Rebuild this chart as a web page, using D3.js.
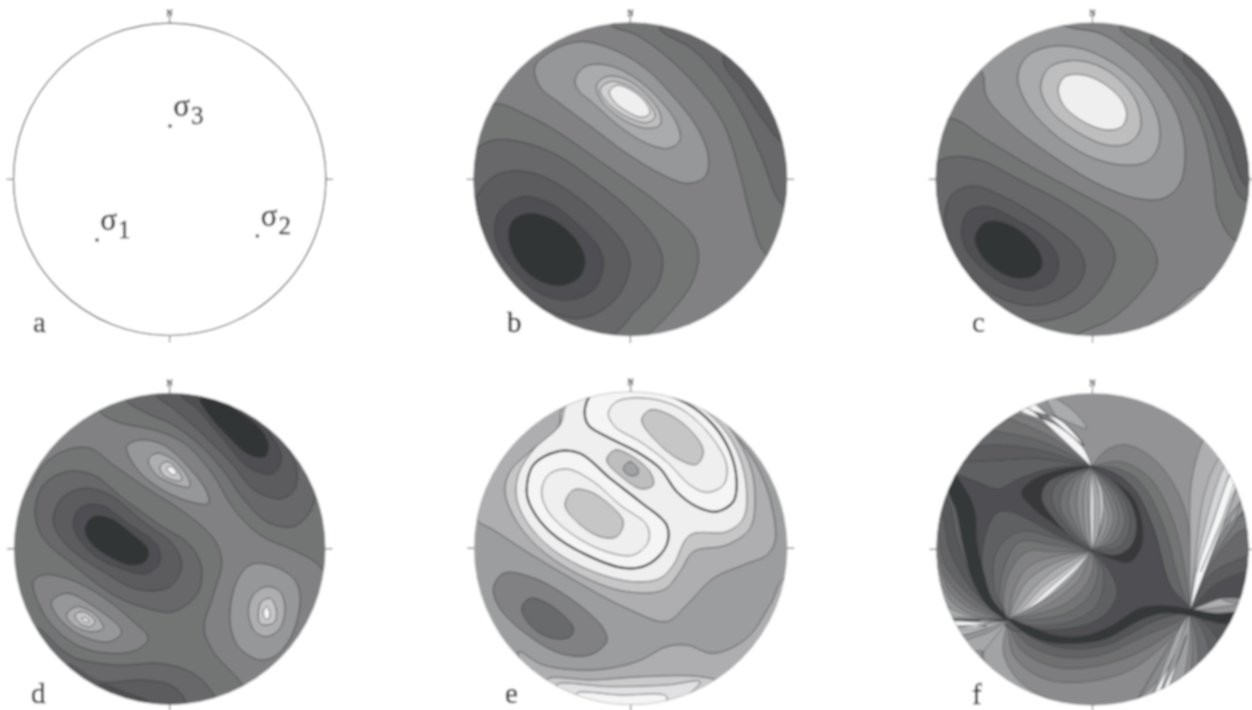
<!DOCTYPE html>
<html>
<head>
<meta charset="utf-8">
<script src="https://cdn.jsdelivr.net/npm/d3@7"></script>
<style>
  html, body { margin: 0; padding: 0; background: #fff; }
  svg { display: block; }
  text { font-family: "Liberation Serif", serif; fill: #222; stroke: #222; stroke-width: 0.35px; }
</style>
</head>
<body>
<div id="chart"></div>
<script>
// Contours were traced off 3x crops of the figure, so ring points are in crop
// pixels. Every ring is [level, [x, y, x, y, ...]], level 0 = darkest, 100 = white.

const panelLetters = ["a", "b", "c", "d", "e", "f"]
const northLabel = "N"

// stress axes on panel a: name, subscript, point
const stressNames = ["\u03c3", "\u03c3", "\u03c3"]
const stressSubs = ["1", "2", "3"]
const stressPoints = [[291, 720], [772, 708], [510, 378]]

const baseLevels = { b: 41, c: 41, d: 41, e: 55, f: 50 }

const panelBRings = [
  [34, [455,75, 530,105, 620,170, 720,270, 790,370, 840,520, 870,640, 915,760, 1000,800, 1060,500, 900,100, 600,20]],
  [28, [600,85, 700,150, 790,250, 850,350, 900,460, 975,620, 1060,600, 1000,200, 750,40]],
  [22, [790,185, 850,270, 910,360, 975,430, 1060,400, 950,150, 820,110]],
  [34, [100,312, 200,345, 300,400, 400,470, 500,540, 620,630, 700,710, 715,780, 690,860, 620,950, 560,1010, 520,1080, 200,1080, -40,800, -20,400]],
  [28, [45,450, 100,420, 200,430, 300,470, 400,540, 500,620, 580,710, 608,780, 590,860, 520,940, 460,1005, 300,1060, 0,850, -30,550]],
  [22, [50,590, 100,530, 170,512, 250,530, 350,590, 430,660, 490,730, 510,790, 480,880, 410,940, 340,955, 240,920, 60,800, 20,680]],
  [16, [105,670, 130,620, 190,590, 270,610, 350,670, 420,750, 430,800, 400,870, 320,900, 240,880, 160,810, 110,730]],
  [1.5, [145,705, 160,660, 210,640, 280,660, 345,715, 375,775, 360,830, 300,857, 230,838, 170,780]],
  [52, [225,200, 280,150, 360,125, 450,145, 550,200, 640,290, 710,380, 745,470, 735,530, 680,550, 600,520, 500,460, 400,385, 300,310, 240,260]],
  [62, [345,240, 375,200, 440,195, 520,230, 600,300, 650,370, 660,420, 625,445, 560,430, 480,380, 400,310, 355,270]],
  [72, [410,255, 440,230, 490,235, 550,275, 600,340, 600,375, 560,385, 500,365, 440,320, 415,285]],
  [81, [420,270, 450,245, 500,255, 560,300, 585,350, 560,368, 510,355, 455,320]],
  [97, [448,275, 470,256, 510,268, 555,305, 570,340, 545,352, 505,337, 465,307]]
]

const panelCRings = [
  [52, [185,215, 200,290, 280,380, 400,470, 530,550, 650,595, 730,595, 780,550, 795,450, 770,340, 700,230, 620,150, 540,100, 440,80, 300,20, 100,150]],
  [34, [600,80, 700,160, 790,270, 850,390, 880,530, 895,640, 945,720, 1060,720, 1060,300, 800,60]],
  [28, [690,115, 780,210, 840,300, 880,390, 920,500, 975,600, 1060,560, 950,180, 780,90]],
  [22, [790,170, 850,250, 910,380, 985,560, 1060,480, 960,180, 860,130]],
  [52, [680,985, 760,930, 850,865, 950,900, 800,1060]],
  [34, [90,355, 200,420, 350,510, 500,590, 640,670, 700,740, 710,800, 660,880, 570,960, 470,1005, 400,1080, 100,1000, -30,700, 0,400]],
  [28, [50,490, 100,470, 180,480, 300,540, 450,620, 560,710, 585,770, 560,840, 490,920, 390,960, 300,960, 100,880, 0,680]],
  [22, [75,640, 100,580, 160,558, 250,590, 370,660, 470,740, 495,800, 470,860, 400,905, 310,915, 200,870, 100,760]],
  [16, [125,690, 145,635, 200,620, 290,660, 380,720, 415,780, 400,840, 340,870, 260,855, 180,800, 135,740]],
  [1.5, [165,715, 190,670, 240,665, 310,700, 360,760, 365,800, 335,830, 270,830, 205,790, 175,750]],
  [62, [293,230, 320,170, 390,140, 480,145, 580,190, 670,270, 715,360, 715,440, 680,485, 610,495, 510,470, 400,400, 320,310]],
  [72, [362,265, 385,205, 450,182, 530,195, 610,250, 655,320, 660,390, 625,430, 560,435, 470,395, 395,335]],
  [97, [415,265, 435,230, 490,225, 550,250, 605,300, 620,345, 605,380, 560,390, 490,365, 430,315]]
]

const panelDRings = [
  [34, [300,140, 350,170, 480,200, 560,240, 640,330, 700,430, 780,510, 880,555, 945,590, 990,630, 1060,500, 900,100, 500,30, 280,90]],
  [28, [380,105, 430,140, 520,180, 610,250, 680,330, 720,390, 800,470, 880,485, 930,440, 950,350, 900,180, 700,40, 420,50]],
  [22, [470,90, 520,130, 610,210, 690,290, 770,380, 850,400, 885,370, 890,310, 850,230, 760,120, 600,50]],
  [16, [545,90, 590,130, 660,210, 750,310, 820,325, 845,280, 820,220, 760,150, 640,70]],
  [1.5, [600,100, 620,140, 680,210, 750,270, 795,275, 805,240, 780,190, 700,130, 630,85]],
  [34, [90,370, 130,300, 200,255, 270,250, 340,300, 440,370, 550,440, 640,520, 665,590, 640,690, 612,790, 640,860, 730,965, 760,1080, 300,1080, -30,800, -20,500]],
  [28, [105,440, 130,360, 200,320, 280,330, 370,400, 480,480, 570,540, 605,610, 590,690, 520,740, 440,730, 340,690, 220,600, 130,520]],
  [22, [160,470, 185,400, 250,370, 330,390, 430,470, 520,540, 545,600, 510,665, 420,675, 310,620, 200,540]],
  [16, [220,480, 240,430, 300,420, 390,480, 470,540, 480,590, 440,625, 360,610, 270,560]],
  [1.5, [255,490, 280,455, 330,460, 400,510, 445,555, 435,590, 390,600, 320,570, 270,530]],
  [42, [100,650, 130,630, 200,640, 300,690, 400,770, 445,820, 410,855, 330,865, 230,840, 140,760]],
  [52, [155,710, 200,685, 290,730, 365,800, 330,830, 240,810, 170,750]],
  [64, [200,750, 230,725, 280,745, 310,790, 270,800, 220,780]],
  [76, [225,750, 250,740, 285,770, 270,785, 240,775]],
  [100, [245,760, 260,760, 268,770, 255,770]],
  [28, [110,790, 180,850, 230,880, 350,900, 480,895, 570,920, 620,960, 645,1010, 500,1080, 100,1000]],
  [22, [200,900, 300,950, 430,945, 520,965, 555,1015, 450,1080, 200,1000]],
  [16, [300,960, 380,985, 450,1015, 380,1060, 280,1000]],
  [52, [380,245, 420,225, 490,240, 560,300, 620,380, 625,415, 570,410, 480,370, 410,310]],
  [64, [445,285, 470,265, 520,285, 565,340, 570,365, 530,360, 470,330]],
  [76, [480,305, 500,290, 530,310, 545,345, 520,345, 490,330]],
  [100, [500,310, 515,305, 530,325, 520,330]],
  [52, [690,740, 710,650, 750,600, 810,600, 880,640, 900,690, 880,800, 830,870, 780,885, 720,850, 695,800]],
  [64, [745,740, 760,690, 800,665, 840,680, 855,730, 840,790, 800,815, 765,800]],
  [76, [775,745, 785,710, 810,700, 828,730, 825,770, 800,780, 780,775]],
  [100, [790,740, 800,725, 810,745, 805,762, 795,760]]
]

const panelERings = [
  [64, [50,465, 100,495, 200,560, 350,650, 500,730, 620,770, 680,720, 760,640, 850,600, 920,570, 945,530, 935,420, 900,320, 850,240, 780,170, 700,60, 300,10, -20,350]],
  [76, [310,125, 295,185, 210,260, 150,320, 135,380, 170,470, 250,560, 380,640, 500,680, 610,675, 660,620, 700,560, 800,540, 870,490, 885,400, 870,300, 810,190, 740,120, 520,40]],
  [97, [320,120, 300,180, 220,255, 175,330, 170,400, 200,470, 280,555, 400,620, 520,650, 600,640, 640,600, 690,510, 800,500, 850,460, 860,380, 840,280, 790,190, 700,110, 600,60, 400,60]],
  [41, [100,670, 130,625, 210,635, 330,700, 430,790, 440,830, 390,870, 300,865, 190,800, 120,730]],
  [29, [185,730, 210,700, 270,720, 340,790, 330,815, 280,820, 220,790]],
  [64, [175,860, 250,900, 400,915, 530,890, 620,845, 680,840, 760,865, 860,820, 930,720, 975,640, 1060,760, 800,1080, 300,1080]],
  [78, [260,945, 400,945, 550,935, 720,935, 770,950, 600,1060, 360,1060]],
  [90, [290,960, 450,965, 620,960, 720,950, 600,1040, 380,1040]],
  [100, [350,985, 480,990, 620,995, 600,1040, 420,1040]]
]

// bold contour pair on panel e
const panelEBoldRings = [
  [100, [200,380, 220,300, 290,260, 360,265, 450,340, 540,410, 620,480, 620,540, 570,595, 500,610, 380,570, 270,500, 215,430]],
  [100, [375,130, 385,180, 440,215, 530,260, 600,310, 650,380, 710,425, 770,440, 820,410, 830,350, 810,260, 760,180, 680,115, 560,75, 400,85]]
]

const panelEInnerRings = [
  [97, [245,380, 265,330, 320,312, 400,350, 480,420, 560,480, 565,530, 520,570, 440,560, 340,510, 265,440]],
  [76, [315,420, 340,375, 390,380, 450,420, 490,470, 470,515, 420,515, 350,470]],
  [97, [445,145, 470,110, 560,100, 660,130, 750,210, 800,300, 790,360, 740,382, 690,360, 620,290, 540,230, 465,185]],
  [76, [545,165, 570,135, 630,150, 700,205, 730,260, 710,298, 660,285, 590,230]],
  [72, [440,285, 465,255, 510,270, 570,320, 580,360, 545,372, 490,340]],
  [58, [490,310, 510,290, 535,315, 530,330, 505,330]]
]

// Panel f: the singular points the fans run between
const P1 = [515, 305]
const P2 = [515, 557]
const P3 = [265, 765]
const P4 = [810, 738]

// lenses: [level, tip, tip, side points, side points]
const panelFLowerArcs = [
  [58, P3, P4, [190,860, 300,1040, 700,1040], [560,560]],
  [46, P3, P4, [250,860, 290,940, 370,995, 500,1030, 640,1010, 760,880], [540,600]],
  [39, P3, P4, [280,870, 370,940, 500,950, 640,910, 770,800], [540,640]],
  [32, P3, P4, [300,850, 400,905, 520,905, 660,860, 780,780], [540,660]],
  [26, P3, P4, [320,835, 420,875, 540,870, 680,810, 790,760], [540,680]],
  [18, P3, P4, [340,820, 430,850, 560,840, 700,770], [540,700]]
]

const panelFRingsUnder = [
  [24, [70,300, 130,290, 240,285, 350,280, 515,300, 540,560, 300,800, 60,500]]
]

const panelFBodyBands = [
  [41, P1, P4, [560,255, 620,240, 710,290, 790,420, 815,600], [540,600]],
  [34, P1, P4, [600,290, 690,340, 760,470, 795,620], [540,600]],
  [27, P1, P4, [590,310, 660,350, 730,480, 775,640], [540,600]],
  [20, P1, P4, [575,320, 640,370, 700,490, 750,660], [540,600]]
]

const whiteUpperEdge = [490,240, 420,165, 320,130, 290,95]
const panelFUpperFan = [
  [62, P1, [150,20], [350,280, 240,285, 130,290, 60,290], [500,190, 445,125, 375,90]],
  [22, P1, [200,50], [350,280, 240,285, 130,290, 60,290], whiteUpperEdge],
  [27, P1, [200,50], [360,255, 240,240, 150,245, 100,240], whiteUpperEdge],
  [32, P1, [200,50], [380,235, 260,205, 190,195, 130,190], whiteUpperEdge],
  [38, P1, [210,50], [400,220, 290,170, 230,150, 170,130], whiteUpperEdge],
  [45, P1, [230,50], [430,215, 340,165, 270,140, 220,105], whiteUpperEdge],
  [55, P1, [250,50], [455,228, 370,172, 295,135, 240,100], whiteUpperEdge],
  [68, P1, [260,50], [475,243, 395,175, 300,137, 250,100], whiteUpperEdge],
  [100, P1, [280,60], [490,250, 405,178, 310,143, 270,115], whiteUpperEdge]
]

const whiteLeftTop = [180,765, 100,762, 40,760]
const panelFLeftFan = [
  [20, P3, [-40,700], [180,680, 110,520, 90,420, 60,370], whiteLeftTop],
  [26, P3, [-40,700], [170,690, 90,560, 70,460, 40,400], whiteLeftTop],
  [32, P3, [-40,700], [160,700, 75,600, 50,500, 20,440], whiteLeftTop],
  [38, P3, [-40,720], [150,715, 80,640, 50,570, 10,520], whiteLeftTop],
  [44, P3, [-40,720], [150,730, 90,680, 60,620, 20,580], whiteLeftTop],
  [52, P3, [-40,740], [150,745, 95,710, 70,670, 30,640], whiteLeftTop],
  [62, P3, [-40,750], [160,755, 100,735, 60,715], whiteLeftTop],
  [74, P3, [-40,755], [180,760, 110,755, 60,750], whiteLeftTop],
  [60, P3, [0,900], [200,790, 130,810, 60,820], [190,860, 120,950]],
  [52, P3, [20,840], [210,800, 140,825, 90,850], [200,790, 130,810, 60,820]],
  [68, P3, [20,800], [200,790, 130,810, 60,820], [200,782, 110,795, 60,800]],
  [100, P3, [30,785], [200,772, 110,768, 50,770], [200,782, 110,795, 60,800]]
]

const whiteRightEdge = [842,620, 905,470, 945,350, 980,280]
const panelFRightFan = [
  [64, P4, [1040,200], [810,560, 815,350, 850,225, 880,180], [905,700, 1060,700]],
  [16, P4, [1060,300], [905,700, 970,700, 1060,700], whiteRightEdge],
  [22, P4, [1060,300], [885,660, 975,620, 1060,600], whiteRightEdge],
  [28, P4, [1060,300], [870,630, 985,570, 1060,530], whiteRightEdge],
  [36, P4, [1060,300], [860,620, 945,510, 1060,440], whiteRightEdge],
  [44, P4, [1060,300], [850,610, 925,480, 1060,380], whiteRightEdge],
  [54, P4, [1030,280], [848,600, 915,470, 1000,360], whiteRightEdge],
  [70, P4, [950,220], [828,560, 850,400, 880,310, 910,260], [830,620, 880,470, 925,340, 960,270]],
  [84, P4, [960,230], [829,600, 866,440, 905,320, 935,265], [830,620, 880,470, 925,340, 960,270]],
  [100, P4, [1000,240], [830,620, 880,470, 925,340, 960,270], whiteRightEdge]
]

const whiteBelowEdge = [800,810, 775,880, 735,960, 700,1040]
const panelFLowerRightFan = [
  [18, P4, [700,1100], [900,765, 960,790, 1060,850], whiteBelowEdge],
  [24, P4, [700,1100], [870,790, 920,860, 1000,960], whiteBelowEdge],
  [30, P4, [700,1100], [850,800, 880,900, 930,1020], whiteBelowEdge],
  [38, P4, [700,1100], [830,820, 840,930, 860,1060], whiteBelowEdge],
  [46, P4, [700,1100], [818,830, 810,950, 800,1080], whiteBelowEdge],
  [56, P4, [700,1100], [808,840, 790,950, 760,1060], whiteBelowEdge],
  [62, P4, [650,1100], [790,800, 760,880, 715,960, 680,1040], [775,790, 730,870, 660,990, 620,1060]],
  [100, P4, [700,1100], [790,800, 760,880, 715,960, 680,1040], whiteBelowEdge]
]

const panelFRingsBody = [
  [16, [515,305, 400,310, 300,340, 235,372, 170,350, 100,330, 150,400, 170,530, 200,680, 265,765, 400,820, 560,810, 660,740, 810,738, 750,660, 700,490, 640,370, 570,320]]
]

const panelFLowerLobe = [
  [24, P2, P3, [430,520, 240,440, 190,540, 200,680], [340,790, 450,790, 540,760, 590,690, 570,620]],
  [29, P2, P3, [420,525, 300,500, 230,560, 225,680], [320,780, 450,770, 530,720, 550,620]],
  [34, P2, P3, [400,540, 300,530, 255,600, 240,700], [330,765, 440,745, 510,690, 535,610]],
  [41, P2, P3, [400,560, 320,560, 265,630, 250,720], [340,750, 430,720, 490,670, 520,610]],
  [47, P2, P3, [380,580, 320,610, 280,680], [350,735, 420,695, 480,640]],
  [55, P2, P3, [390,600, 320,650, 285,710], [350,720, 420,675, 470,625]],
  [64, P2, P3, [410,610, 345,665, 300,720], [355,710, 420,655, 470,610]],
  [76, P2, P3, [430,620, 365,668, 315,722], [362,708, 422,652, 475,603]],
  [97, P2, P3, [445,622, 385,672, 330,722], [365,707, 420,660, 470,612]]
]

// dark band wrapped round the central lobe, and the two swooshes
const panelFRingsDark = [
  [4, [515,308, 420,315, 330,350, 305,385, 340,430, 420,490, 500,545, 570,580, 630,590, 665,540, 665,470, 640,400, 570,340]],
  [3, [265,762, 330,785, 400,810, 480,815, 570,785, 660,730, 730,722, 810,732, 880,745, 960,745, 925,775, 860,765, 800,750, 720,745, 650,770, 560,820, 470,835, 380,830, 310,800]],
  [3, [100,330, 140,380, 165,440, 170,530, 190,620, 215,700, 265,765, 210,730, 160,650, 130,540, 110,440, 85,370]]
]

const panelFCentreLobe = [
  [22, P1, P2, [440,325, 380,355, 365,400, 400,460, 470,530], [590,570, 635,540, 650,480, 630,410, 570,340]],
  [27, P1, P2, [420,345, 395,400, 445,490], [600,545, 630,480, 610,400]],
  [33, P1, P2, [445,350, 420,420, 465,500], [585,530, 615,470, 590,390]],
  [39, P1, P2, [465,350, 445,420, 480,505], [565,530, 595,460, 575,390]],
  [46, P1, P2, [480,350, 470,430, 490,510], [550,530, 580,460, 560,390]],
  [52, P1, P2, [495,360, 490,430, 500,520], [540,530, 565,460, 550,400]],
  [60, P1, P2, [505,370, 505,430, 510,520], [530,530, 550,460, 540,400]],
  [88, P1, P2, [512,370, 510,430, 513,520], [520,530, 522,460, 522,400]],
  [82, P1, P2, [537,380, 540,450, 533,520], [531,520, 548,450, 546,380]]
]

// ---- drawing ----
const width = 1252
const height = 710

const panels = [
  { id: "a", x0: 0,   y0: 0,   cx: 169.7,  cy: 179.3, r: 156.2, lx: 33,  ly: 332 },
  { id: "b", x0: 460, y0: 0,   cx: 630.3,  cy: 179.3, r: 156.8, lx: 507, ly: 332 },
  { id: "c", x0: 920, y0: 0,   cx: 1092.5, cy: 179.3, r: 156.8, lx: 972, ly: 332 },
  { id: "d", x0: 0,   y0: 365, cx: 169.7,  cy: 548.8, r: 155.6, lx: 31,  ly: 703 },
  { id: "e", x0: 460, y0: 365, cx: 630.7,  cy: 548.2, r: 156.5, lx: 505, ly: 703 },
  { id: "f", x0: 920, y0: 365, cx: 1092.5, cy: 549.3, r: 156,   lx: 972, ly: 704 }
]

const panelLayers = {
  b: [{ rings: panelBRings }],
  c: [{ rings: panelCRings }],
  d: [{ rings: panelDRings }],
  e: [{ rings: panelERings }, { rings: panelEBoldRings, bold: true }, { rings: panelEInnerRings }],
  f: [
    { lenses: panelFLowerArcs }, { rings: panelFRingsUnder }, { lenses: panelFBodyBands },
    { lenses: panelFUpperFan }, { lenses: panelFLeftFan }, { lenses: panelFRightFan },
    { lenses: panelFLowerRightFan }, { rings: panelFRingsBody }, { lenses: panelFLowerLobe },
    { rings: panelFRingsDark }, { lenses: panelFCentreLobe }
  ]
}

const shade = d3.scaleLinear().domain([0, 100]).range(["rgb(48,49,51)", "rgb(245,245,246)"])

const svg = d3.select("#chart").append("svg")
  .attr("width", width).attr("height", height)
  .attr("viewBox", `0 0 ${width} ${height}`)

const defs = svg.append("defs")
defs.append("filter").attr("id", "soft")
  .attr("filterUnits", "userSpaceOnUse")
  .attr("x", 0).attr("y", 0).attr("width", width).attr("height", height)
  .append("feGaussianBlur").attr("stdDeviation", 0.85)

const root = svg.append("g").attr("filter", "url(#soft)")
root.append("rect").attr("width", width).attr("height", height).attr("fill", "#fff")

function pairs(flat) {
  const out = []
  for (let i = 0; i < flat.length; i += 2) out.push([flat[i], flat[i + 1]])
  return out
}

panels.forEach(p => {
  const x = d3.scaleLinear().domain([0, 1020]).range([p.x0, p.x0 + 340])
  const y = d3.scaleLinear().domain([0, 1020]).range([p.y0, p.y0 + 340])
  const g = root.append("g").attr("class", `panel-${p.id}`)

  const closed = d3.line().x(d => x(d[0])).y(d => y(d[1])).curve(d3.curveCatmullRomClosed.alpha(0.5))
  const open = d3.line().x(d => x(d[0])).y(d => y(d[1])).curve(d3.curveCatmullRom.alpha(0.5))

  defs.append("clipPath").attr("id", `disc-${p.id}`)
    .append("circle").attr("cx", p.cx).attr("cy", p.cy).attr("r", p.r)

  const disc = g.append("g").attr("clip-path", `url(#disc-${p.id})`)

  if (baseLevels[p.id] !== undefined) {
    disc.append("circle").attr("cx", p.cx).attr("cy", p.cy).attr("r", p.r)
      .attr("fill", shade(baseLevels[p.id]))
  }

  ;(panelLayers[p.id] || []).forEach(layer => {
    if (layer.rings) {
      disc.selectAll(null).data(layer.rings).join("path")
        .attr("d", d => closed(pairs(d[1])))
        .attr("fill", d => shade(d[0]))
        .attr("stroke", layer.bold ? "#111" : "#3d3e40")
        .attr("stroke-width", layer.bold ? 2 : 0.8)
    }
    if (layer.lenses) {
      disc.selectAll(null).data(layer.lenses).join("path")
        .attr("d", d => {
          const one = open([d[1], ...pairs(d[3]), d[2]])
          const two = open([d[2], ...pairs(d[4]), d[1]])
          return one + "L" + two.slice(1) + "Z"
        })
        .attr("fill", d => shade(d[0]))
        .attr("stroke", "#3d3e40")
        .attr("stroke-width", 0.5)
    }
  })

  // rim
  g.append("circle").attr("cx", p.cx).attr("cy", p.cy).attr("r", p.r)
    .attr("fill", "none")
    .attr("stroke", p.id === "a" ? "#555" : "#9a9a9a")
    .attr("stroke-width", p.id === "a" ? 1.2 : 0.5)

  // ticks at the four compass points
  const ticks = [[0, -1], [0, 1], [-1, 0], [1, 0]]
  g.selectAll(null).data(ticks).join("line")
    .attr("x1", d => p.cx + d[0] * p.r).attr("y1", d => p.cy + d[1] * p.r)
    .attr("x2", d => p.cx + d[0] * (p.r + 7)).attr("y2", d => p.cy + d[1] * (p.r + 7))
    .attr("stroke", "#555").attr("stroke-width", 1)

  g.append("text").attr("x", p.cx).attr("y", p.cy - p.r - 7)
    .attr("text-anchor", "middle").attr("font-size", 8).text(northLabel)

  g.append("text").attr("x", p.lx).attr("y", p.ly)
    .attr("font-size", 29).text(panelLetters[panels.indexOf(p)])

  if (p.id === "a") {
    g.selectAll(null).data(stressPoints).join("circle")
      .attr("cx", d => x(d[0])).attr("cy", d => y(d[1])).attr("r", 1.7).attr("fill", "#111")

    const label = g.selectAll(null).data(stressPoints).join("text")
      .attr("x", d => x(d[0] + 10)).attr("y", d => y(d[1] - 30))
      .attr("font-size", 31)
    label.append("tspan").text((d, i) => stressNames[i])
    label.append("tspan").attr("dx", 1).attr("dy", 8).attr("font-size", 25).text((d, i) => stressSubs[i])
  }
})
</script>
</body>
</html>
